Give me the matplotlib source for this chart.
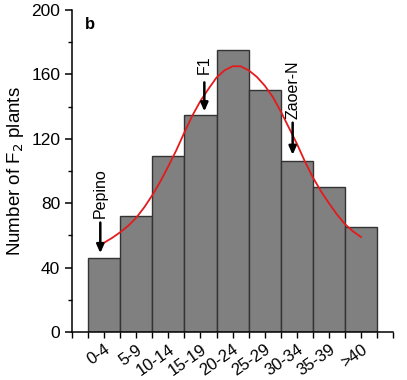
import matplotlib
matplotlib.use("Agg")
import matplotlib.pyplot as plt

plt.rcParams['font.family'] = ['Liberation Sans', 'DejaVu Sans']

# classes and counts of F2 plants
classes = ["0-4", "5-9", "10-14", "15-19", "20-24", "25-29", "30-34", "35-39", ">40"]
counts = [46, 72, 109, 135, 175, 150, 106, 90, 65]

# fitted curve
fit_x = [0, 0.25, 0.5, 0.75, 1, 1.25, 1.5, 1.75, 2, 2.25, 2.5, 2.75, 3, 3.25, 3.5, 3.75,
         4, 4.25, 4.5, 4.75, 5, 5.25, 5.5, 5.75, 6, 6.25, 6.5, 6.75, 7, 7.25, 7.5, 7.75, 8]
fit_y = [55.5, 58.5, 62, 66, 71, 77.5, 85, 93.5, 103, 113, 124, 134.5, 143.5, 151, 158, 162.5,
         165, 165, 162.5, 158.5, 153, 146, 137, 127, 117, 106, 96, 87.5, 80, 73, 67, 62.5, 59]

# parent / F1 markers: label, x position, arrow top, arrow tip, text bottom
marks = ["Pepino", "F1", "Zaoer-N"]
mark_x = [-0.12, 3.12, 5.87]
mark_top = [68, 155, 130]
mark_tip = [49, 137, 110]
mark_txt = [71, 160, 132]

fig = plt.figure(figsize=(4.07, 3.80), dpi=100)
ax = fig.add_axes([0.177, 0.126, 0.789, 0.848])

pos = list(range(len(classes)))
ax.bar(pos, counts, width=1.0, color="#808080", edgecolor="#333333", linewidth=1.0, zorder=2)
ax.plot(fit_x, fit_y, color="#e41a1c", linewidth=1.3, zorder=3)

for lab, x, y0, y1, yt in zip(marks, mark_x, mark_top, mark_tip, mark_txt):
    ax.annotate("", xy=(x, y1), xytext=(x, y0),
                arrowprops=dict(arrowstyle="-|>,head_length=0.5,head_width=0.22",
                                color="black", lw=1.8, shrinkA=0, shrinkB=0), zorder=4)
    ax.text(x, yt, lab, rotation=90, ha="center", va="bottom", fontsize=11.5)

ax.text(0.055, 0.955, "b", transform=ax.transAxes, fontsize=12, fontweight="bold",
        ha="center", va="center")

ax.set_xlim(-1, 9)
ax.set_ylim(0, 200)
ax.set_xticks(pos)
ax.set_xticklabels(classes, rotation=35, ha="right", rotation_mode="anchor", fontsize=12)
ax.set_xticks([-1, -0.5] + [p + 0.5 for p in pos] + [9], minor=True)
ax.set_yticks([0, 40, 80, 120, 160, 200])
ax.set_yticks([20, 60, 100, 140, 180], minor=True)
ax.tick_params(axis="y", which="major", length=5, width=1.1, labelsize=12.5, direction="out")
ax.tick_params(axis="y", which="minor", length=3, width=1.0, direction="out")
ax.tick_params(axis="x", which="both", length=4, width=1.0, direction="out")
ax.tick_params(axis="x", which="major", pad=3)

for s in ["top", "right"]:
    ax.spines[s].set_visible(False)
for s in ["left", "bottom"]:
    ax.spines[s].set_linewidth(1.1)

ax.set_ylabel("Number of F$_2$ plants", fontsize=13.5, labelpad=4)

fig.savefig("out.png", dpi=100)
